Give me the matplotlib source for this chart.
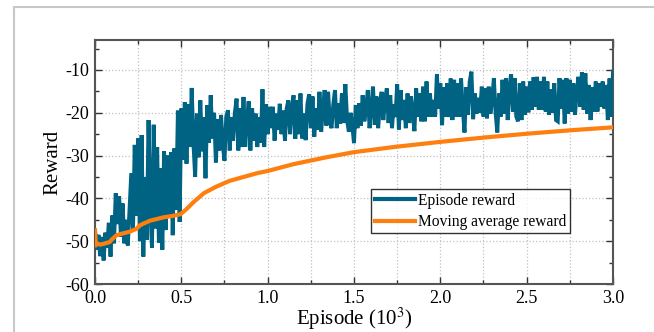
import numpy as np
import matplotlib
matplotlib.use("Agg")
import matplotlib.pyplot as plt
from matplotlib.lines import Line2D
from matplotlib.ticker import MultipleLocator

plt.rcParams['font.family'] = ['Liberation Serif', 'DejaVu Serif']
plt.rcParams['axes.unicode_minus'] = False
plt.rcParams['mathtext.fontset'] = 'stix'

# Episode reward, sampled every 10 episodes (0 .. 3000)
episode_reward = [
    -47.5, -52.0, -48.5, -53.5, -49.0, -54.5, -48.0, -51.5, -45.7, -53.6,
    -44.0, -50.5, -38.8, -46.0, -39.5, -49.0, -41.2, -50.5, -45.0, -51.0,
    -42.5, -34.1, -47.5, -27.5, -44.0, -26.0, -50.0, -25.2, -53.6, -35.0,
    -49.7, -21.7, -42.0, -51.5, -22.8, -47.0, -28.0, -50.3, -33.0, -52.0,
    -29.0, -47.4, -30.0, -44.0, -29.2, -48.6, -28.3, -42.7, -19.5, -45.5,
    -19.0, -31.0, -17.5, -31.9, -18.0, -28.0, -14.2, -27.0, -35.0, -20.2,
    -30.4, -17.1, -29.0, -21.0, -35.3, -18.2, -27.0, -15.9, -26.0, -20.0,
    -31.6, -21.5, -28.8, -20.5, -27.5, -31.2, -21.0, -19.4, -28.8, -21.0,
    -26.5, -20.0, -16.7, -28.8, -19.0, -28.0, -16.3, -27.9, -22.0, -17.3,
    -28.8, -19.0, -26.5, -20.2, -28.0, -21.0, -27.0, -14.5, -28.0, -18.0,
    -25.0, -18.6, -23.6, -18.6, -26.5, -20.2, -24.0, -17.9, -25.0, -19.5,
    -26.5, -19.0, -17.1, -25.0, -19.0, -15.9, -26.1, -17.1, -25.0, -15.5,
    -26.0, -20.2, -26.4, -18.0, -15.7, -23.6, -16.2, -25.6, -19.0, -24.0,
    -15.1, -24.4, -19.0, -14.7, -23.0, -15.1, -22.0, -23.6, -18.0, -14.7,
    -23.6, -17.8, -22.5, -15.5, -22.4, -13.3, -21.7, -24.4, -20.0, -23.0,
    -27.1, -18.2, -23.6, -17.8, -23.0, -15.9, -22.0, -19.0, -14.7, -23.6,
    -19.0, -13.9, -22.8, -16.2, -23.6, -18.0, -15.1, -21.7, -17.0, -14.3,
    -22.4, -15.9, -23.6, -18.0, -21.0, -13.3, -23.9, -14.7, -21.7, -17.0,
    -23.6, -15.5, -22.4, -16.2, -20.0, -24.3, -14.3, -20.9, -15.5, -22.0,
    -13.9, -22.0, -12.7, -20.9, -15.5, -20.9, -17.0, -20.9, -11.0, -19.0,
    -13.1, -22.9, -14.0, -20.9, -13.1, -21.0, -12.0, -21.7, -12.3, -20.9,
    -13.1, -20.9, -12.0, -19.0, -24.6, -14.0, -20.5, -12.7, -10.4, -21.5,
    -15.5, -20.2, -16.5, -20.0, -13.9, -20.9, -14.3, -21.3, -13.9, -20.2,
    -17.0, -11.9, -20.0, -24.6, -15.5, -20.9, -12.3, -20.2, -11.9, -21.7,
    -13.9, -11.0, -19.7, -11.9, -20.9, -22.0, -13.1, -21.7, -12.7, -20.5,
    -13.9, -19.9, -12.7, -19.3, -11.7, -18.6, -11.6, -19.3, -12.7, -19.3,
    -11.6, -19.7, -12.7, -20.5, -14.5, -20.0, -13.1, -21.7, -22.0, -11.9,
    -19.0, -12.3, -22.5, -11.9, -20.2, -12.3, -19.7, -13.1, -20.5, -15.0,
    -11.6, -18.6, -10.5, -19.3, -10.8, -20.2, -13.5, -21.7, -14.0, -19.7,
    -12.7, -19.7, -13.1, -18.6, -12.7, -19.0, -13.5, -21.7, -12.0, -20.9,
    -10.4,
]

# Moving average reward at selected episodes
ma_episodes = [0, 5, 10, 30, 50, 85, 100, 125, 160, 200, 240, 260, 280, 320,
               360, 400, 450, 495, 530, 570, 630, 700, 780, 860, 940, 1000,
               1150, 1340, 1500, 1730, 2000, 2250, 2500, 2750, 3000]
ma_reward = [-47.5, -51.0, -50.5, -50.8, -50.6, -50.2, -49.5, -48.6, -48.2,
             -47.8, -47.1, -46.3, -45.9, -45.2, -44.8, -44.4, -44.1, -43.7,
             -42.5, -40.9, -38.8, -37.3, -35.9, -35.0, -34.1, -33.6, -32.0,
             -30.4, -29.2, -28.0, -26.8, -25.8, -24.9, -24.1, -23.4]

x_ticks = [0.0, 0.5, 1.0, 1.5, 2.0, 2.5, 3.0]
y_ticks = [-60, -50, -40, -30, -20, -10]

ep = np.arange(len(episode_reward)) * 10 / 1000.0
ma_x = np.array(ma_episodes) / 1000.0

fig = plt.figure(figsize=(6.54, 3.32), dpi=100)
ax = fig.add_axes([95/654, 1 - 284/332, (613-95)/654, (284-40)/332])

ax.plot(ep, episode_reward, color='#006384', lw=2.8, label='Episode reward',
        solid_joinstyle='miter', zorder=3)
ax.plot(ma_x, ma_reward, color='#ff7f0e', lw=3.0, label='Moving average reward', zorder=4)

ax.set_xlim(0, 3.0)
ax.set_ylim(-60, -3)
ax.set_xticks(x_ticks)
ax.set_xticklabels([f'{v:.1f}' for v in x_ticks])
ax.set_yticks(y_ticks)
ax.set_yticklabels([str(v) for v in y_ticks])
ax.xaxis.set_minor_locator(MultipleLocator(0.25))
ax.yaxis.set_minor_locator(MultipleLocator(5))

ax.grid(True, which='major', axis='both', ls=':', color='#c0c0c0', lw=0.9)
ax.grid(True, which='minor', axis='x', ls=':', color='#c0c0c0', lw=0.9)
ax.set_axisbelow(True)

ax.tick_params(which='both', direction='in', top=True, right=True,
               labelsize=13, colors='#333333', labelcolor='black')
ax.tick_params(which='major', length=5, width=1.0)
ax.tick_params(which='minor', length=3, width=1.0)
ax.tick_params(axis='x', which='major', pad=4)
ax.tick_params(axis='y', which='major', pad=4)
for s in ax.spines.values():
    s.set_color('#555555')
    s.set_linewidth(1.5)

ax.set_xlabel('Episode (10$^3$)', fontsize=15, labelpad=-1)
ax.set_ylabel('Reward', fontsize=15, labelpad=2)

leg = ax.legend(loc='upper left', bbox_to_anchor=(0.533, 0.389), borderaxespad=0,
                fontsize=11.2, frameon=True, fancybox=False, handlelength=2.6,
                handletextpad=0.2, borderpad=0.22, labelspacing=0.35)
leg.get_frame().set_edgecolor('black')
leg.get_frame().set_linewidth(1.0)
for h in leg.get_lines():
    h.set_linewidth(3.0)

# outer light border
fig.add_artist(Line2D([14/654, 1.0], [1 - 7/332, 1 - 7/332], transform=fig.transFigure,
                      color='#c8c8c8', lw=1.5))
fig.add_artist(Line2D([14/654, 14/654], [0, 1 - 7/332], transform=fig.transFigure,
                      color='#c8c8c8', lw=1.5))

fig.savefig('out.png', dpi=100, facecolor='white')
